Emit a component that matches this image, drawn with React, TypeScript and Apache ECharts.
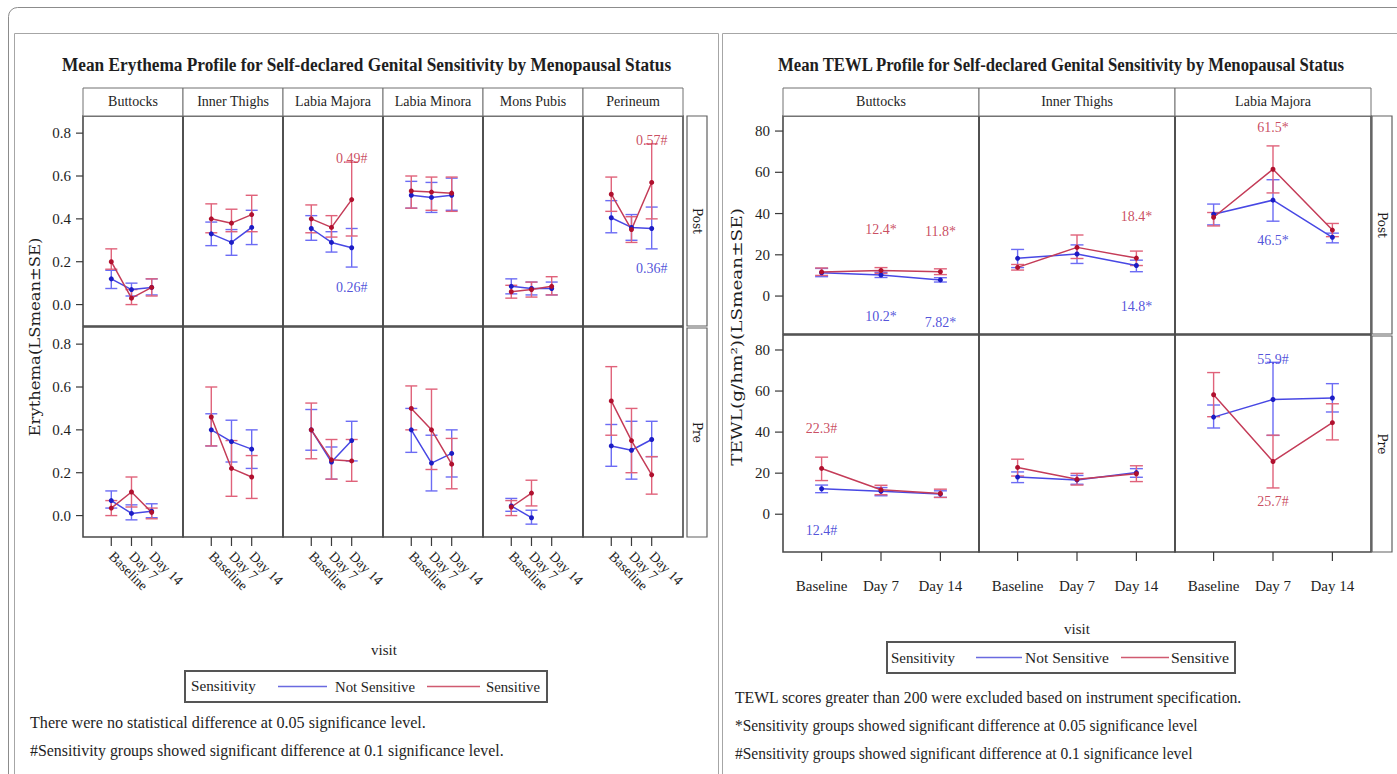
import React, { useEffect, useRef } from "react";
import * as echarts from "echarts";

// ---------------- DATA ----------------
const VISITS = ["Baseline", "Day 7", "Day 14"];
const VISIT_IDX = [0, 1, 2];
const ERY_SITES = ["Buttocks", "Inner Thighs", "Labia Majora", "Labia Minora", "Mons Pubis", "Perineum"];
const TEWL_SITES = ["Buttocks", "Inner Thighs", "Labia Majora"];
const ROWS = ["Post", "Pre"];
const ERY_TICKS = [0, 0.2, 0.4, 0.6, 0.8];
const TEWL_TICKS = [0, 20, 40, 60, 80];

// Erythema, Post, Not Sensitive
const eryPostNSMean = [[0.12, 0.07, 0.08], [0.33, 0.29, 0.36], [0.355, 0.29, 0.265], [0.51, 0.5, 0.51], [0.085, 0.075, 0.075], [0.405, 0.36, 0.355]];
const eryPostNSLo = [[0.075, 0.04, 0.045], [0.275, 0.23, 0.28], [0.3, 0.245, 0.175], [0.45, 0.43, 0.44], [0.05, 0.045, 0.045], [0.335, 0.3, 0.26]];
const eryPostNSHi = [[0.16, 0.1, 0.12], [0.385, 0.35, 0.44], [0.415, 0.34, 0.355], [0.575, 0.57, 0.59], [0.12, 0.105, 0.105], [0.485, 0.42, 0.455]];
// Erythema, Post, Sensitive
const eryPostSMean = [[0.2, 0.03, 0.08], [0.4, 0.38, 0.42], [0.4, 0.36, 0.49], [0.53, 0.525, 0.52], [0.06, 0.07, 0.085], [0.515, 0.35, 0.57]];
const eryPostSLo = [[0.165, 0.0, 0.04], [0.335, 0.34, 0.34], [0.335, 0.315, 0.32], [0.45, 0.44, 0.435], [0.03, 0.035, 0.045], [0.435, 0.29, 0.4]];
const eryPostSHi = [[0.26, 0.07, 0.12], [0.47, 0.445, 0.51], [0.465, 0.415, 0.665], [0.6, 0.595, 0.595], [0.09, 0.105, 0.13], [0.595, 0.41, 0.75]];
// Erythema, Pre, Not Sensitive
const eryPreNSMean = [[0.07, 0.01, 0.02], [0.4, 0.345, 0.31], [0.4, 0.25, 0.35], [0.4, 0.245, 0.29], [0.045, -0.01, null], [0.325, 0.305, 0.355]];
const eryPreNSLo = [[0.035, -0.02, -0.01], [0.325, 0.25, 0.22], [0.305, 0.17, 0.255], [0.295, 0.115, 0.18], [0.02, -0.04, null], [0.23, 0.17, 0.275]];
const eryPreNSHi = [[0.115, 0.05, 0.055], [0.475, 0.445, 0.4], [0.495, 0.32, 0.44], [0.5, 0.375, 0.4], [0.08, 0.025, null], [0.425, 0.44, 0.44]];
// Erythema, Pre, Sensitive
const eryPreSMean = [[0.035, 0.11, 0.015], [0.46, 0.22, 0.18], [0.4, 0.26, 0.255], [0.5, 0.4, 0.24], [0.04, 0.105, null], [0.535, 0.35, 0.19]];
const eryPreSLo = [[0.0, 0.04, -0.015], [0.325, 0.09, 0.08], [0.265, 0.17, 0.16], [0.4, 0.215, 0.125], [0.0, 0.045, null], [0.375, 0.2, 0.1]];
const eryPreSHi = [[0.07, 0.18, 0.035], [0.6, 0.35, 0.28], [0.525, 0.355, 0.355], [0.605, 0.59, 0.36], [0.07, 0.165, null], [0.695, 0.5, 0.275]];

// TEWL, Post
const tewlPostNSMean = [[11.3, 10.2, 7.82], [18.3, 20.4, 14.8], [39.7, 46.5, 28.5]];
const tewlPostNSLo = [[9.4, 9.0, 6.8], [13.8, 15.8, 11.8], [34.5, 36.3, 25.8]];
const tewlPostNSHi = [[13.4, 11.5, 8.9], [22.6, 24.8, 17.4], [44.6, 56.4, 30.5]];
const tewlPostSMean = [[11.7, 12.4, 11.8], [13.9, 23.6, 18.4], [38.2, 61.5, 32.0]];
const tewlPostSLo = [[10.0, 11.0, 10.4], [12.6, 18.2, 14.8], [34.0, 50.0, 28.8]];
const tewlPostSHi = [[13.6, 13.8, 13.2], [15.3, 29.6, 21.8], [40.5, 72.8, 35.2]];
// TEWL, Pre
const tewlPreNSMean = [[12.4, 11.2, 9.8], [18.1, 16.7, 20.3], [47.3, 55.9, 56.6]];
const tewlPreNSLo = [[10.5, 9.0, 8.2], [15.4, 14.6, 18.0], [42.0, 38.4, 49.8]];
const tewlPreNSHi = [[14.2, 13.0, 11.4], [20.6, 18.9, 22.2], [53.2, 74.0, 63.6]];
const tewlPreSMean = [[22.3, 11.9, 10.1], [22.8, 17.0, 19.7], [58.2, 25.7, 44.6]];
const tewlPreSLo = [[16.4, 9.5, 8.2], [18.6, 14.2, 15.9], [47.5, 12.8, 36.2]];
const tewlPreSHi = [[27.8, 14.1, 12.2], [26.8, 19.9, 23.6], [69.0, 38.5, 53.8]];

// annotations: [row, site, visit, y, text, group]
const eryLabels: any[] = [
  [0, 2, 2, 0.68, "0.49#", "S"],
  [0, 2, 2, 0.08, "0.26#", "NS"],
  [0, 5, 2, 0.765, "0.57#", "S"],
  [0, 5, 2, 0.17, "0.36#", "NS"],
];
const tewlLabels: any[] = [
  [0, 0, 1, 32.3, "12.4*", "S"],
  [0, 0, 2, 31.5, "11.8*", "S"],
  [0, 0, 1, -9.7, "10.2*", "NS"],
  [0, 0, 2, -12.9, "7.82*", "NS"],
  [0, 1, 2, 38.4, "18.4*", "S"],
  [0, 1, 2, -5.2, "14.8*", "NS"],
  [0, 2, 1, 81.6, "61.5*", "S"],
  [0, 2, 1, 26.7, "46.5*", "NS"],
  [1, 0, 0, 42, "22.3#", "S"],
  [1, 0, 0, -8, "12.4#", "NS"],
  [1, 2, 1, 75.4, "55.9#", "NS"],
  [1, 2, 1, 6, "25.7#", "S"],
];

// ---------------- STYLE ----------------
const SERIF = "'Liberation Serif', 'Times New Roman', serif";
const WIDE = "'DejaVu Serif', serif";
const C = {
  NS: { line: "#4848e4", err: "#6c6cf4", pt: "#1c1cc4", label: "#2626d0" },
  S: { line: "#c43c58", err: "#e0627a", pt: "#b0102e", label: "#bc2038" },
};
const TXT = "#1e1e1e";
const BORDER = "#4a4a4a";

let _ctx: CanvasRenderingContext2D | null = null;
function measure(text: string, font: string) {
  if (!_ctx) _ctx = document.createElement("canvas").getContext("2d");
  if (!_ctx) return 0;
  _ctx.font = font;
  return _ctx.measureText(text).width;
}
function fitText(text: string, x: number, y: number, width: number, o: any = {}) {
  const size = o.size || 15;
  const family = o.family || SERIF;
  const weight = o.weight || "normal";
  const w = measure(text, `${weight} ${size}px ${family}`);
  const s = w > 0 && width > 0 ? width / w : 1;
  const align = o.align || "left";
  return {
    type: "text",
    x,
    y,
    rotation: o.rotation || 0,
    scaleX: s,
    scaleY: 1,
    silent: true,
    z: 10,
    style: {
      text,
      fontFamily: family,
      fontSize: size,
      fontWeight: weight,
      fill: o.color || TXT,
      align,
      textAlign: align,
      verticalAlign: "middle",
      textVerticalAlign: "middle",
    },
  };
}
function plainText(text: string, x: number, y: number, o: any = {}) {
  return {
    type: "text",
    x,
    y,
    rotation: o.rotation || 0,
    silent: true,
    z: 10,
    style: {
      text,
      fontFamily: o.family || SERIF,
      fontSize: o.size || 14,
      fill: o.color || TXT,
      align: "center",
      textAlign: "center",
      verticalAlign: "middle",
      textVerticalAlign: "middle",
    },
  };
}

function errRender(color: string, capW: number) {
  return (params: any, api: any) => {
    const x = api.value(0);
    const lo = api.value(1);
    const hi = api.value(2);
    const a = api.coord([x, lo]);
    const b = api.coord([x, hi]);
    const st = { stroke: color, lineWidth: 1.4 };
    return {
      type: "group",
      children: [
        { type: "line", shape: { x1: a[0], y1: a[1], x2: b[0], y2: b[1] }, style: st },
        { type: "line", shape: { x1: a[0] - capW, y1: a[1], x2: a[0] + capW, y2: a[1] }, style: st },
        { type: "line", shape: { x1: b[0] - capW, y1: b[1], x2: b[0] + capW, y2: b[1] }, style: st },
      ],
    };
  };
}

// axis tick marks drawn through the axis scale (outside the grid)
function tickSeries(g: number, dir: "x" | "y", values: number[], edge: number, len: number) {
  return {
    type: "custom",
    xAxisIndex: g,
    yAxisIndex: g,
    silent: true,
    clip: false,
    z: 5,
    data: values.map((v) => (dir === "y" ? [edge, v] : [v, edge])),
    renderItem: (params: any, api: any) => {
      const p = api.coord([api.value(0), api.value(1)]);
      const shape =
        dir === "y"
          ? { x1: p[0] - len, y1: p[1], x2: p[0], y2: p[1] }
          : { x1: p[0], y1: p[1], x2: p[0], y2: p[1] + len };
      return { type: "line", shape, style: { stroke: "#3a3a3a", lineWidth: 1.2 } };
    },
  };
}

function panelSeries(g: number, groups: any[], labels: any[], capW: number) {
  const out: any[] = [];
  groups.forEach((gr) => {
    const c = (C as any)[gr.key];
    out.push({
      type: "custom",
      xAxisIndex: g,
      yAxisIndex: g,
      silent: true,
      z: 2,
      renderItem: errRender(c.err, capW),
      encode: { x: 0, y: [1, 2] },
      data: gr.lo.map((l: any, i: number) => (l == null ? null : [i, l, gr.hi[i]])).filter((d: any) => d),
    });
  });
  groups.forEach((gr) => {
    const c = (C as any)[gr.key];
    out.push({
      type: "line",
      xAxisIndex: g,
      yAxisIndex: g,
      silent: true,
      z: 3,
      symbol: "circle",
      symbolSize: 5,
      lineStyle: { color: c.line, width: 1.5 },
      itemStyle: { color: c.pt },
      data: gr.mean.map((m: any, i: number) => [i, m == null ? "-" : m]),
    });
  });
  if (labels.length) {
    ["NS", "S"].forEach((k) => {
      const d = labels.filter((l) => l[5] === k);
      if (!d.length) return;
      out.push({
        type: "scatter",
        xAxisIndex: g,
        yAxisIndex: g,
        silent: true,
        z: 4,
        symbolSize: 1,
        itemStyle: { color: "rgba(0,0,0,0)" },
        label: {
          show: true,
          position: "inside",
          formatter: "{b}",
          color: (C as any)[k].label,
          fontFamily: SERIF,
          fontSize: 14,
        },
        data: d.map((l) => ({ name: l[4], value: [l[2], l[3]] })),
      });
    });
  }
  return out;
}

function buildOption() {
  const grid: any[] = [];
  const xAxis: any[] = [];
  const yAxis: any[] = [];
  const series: any[] = [];
  const graphic: any[] = [];

  const axisFont = { fontFamily: SERIF, fontSize: 15, color: TXT };
  const axLine = { show: false, onZero: false };

  // ---------- Erythema chart ----------
  const ERY_X = [-1.4, 3.55];
  const ERY_Y = [-0.1, 0.88];
  const eryData = [
    [eryPostNSMean, eryPostNSLo, eryPostNSHi, eryPostSMean, eryPostSLo, eryPostSHi],
    [eryPreNSMean, eryPreNSLo, eryPreNSHi, eryPreSMean, eryPreSLo, eryPreSHi],
  ];
  ROWS.forEach((row, r) => {
    ERY_SITES.forEach((site, c) => {
      const g = grid.length;
      grid.push({
        left: 83 + c * 100,
        top: r === 0 ? 116 : 327,
        width: 100,
        height: 210,
        show: true,
        borderColor: BORDER,
        borderWidth: 1.6,
        backgroundColor: "transparent",
      });
      xAxis.push({
        type: "value",
        gridIndex: g,
        position: "bottom",
        min: ERY_X[0],
        max: ERY_X[1],
        axisLine: axLine,
        splitLine: { show: false },
        axisTick: { show: false },
        axisLabel: {
          show: r === 1,
          customValues: VISIT_IDX,
          rotate: -45,
          margin: 17,
          hideOverlap: false,
          showMinLabel: true,
          showMaxLabel: true,
          formatter: (v: number) => VISITS[Math.round(v)],
          ...axisFont,
          fontSize: 14,
        },
      });
      yAxis.push({
        type: "value",
        gridIndex: g,
        position: "left",
        min: ERY_Y[0],
        max: ERY_Y[1],
        axisLine: axLine,
        splitLine: { show: false },
        axisTick: { show: false },
        axisLabel: {
          show: c === 0,
          customValues: ERY_TICKS,
          margin: 12,
          hideOverlap: false,
          formatter: (v: number) => v.toFixed(1),
          ...axisFont,
        },
      });
      const d = eryData[r];
      const groups = [
        { key: "NS", mean: d[0][c], lo: d[1][c], hi: d[2][c] },
        { key: "S", mean: d[3][c], lo: d[4][c], hi: d[5][c] },
      ];
      const labs = eryLabels.filter((l) => l[0] === r && l[1] === c);
      series.push(...panelSeries(g, groups, labs, 6));
      if (c === 0) series.push(tickSeries(g, "y", ERY_TICKS, ERY_X[0], 7));
      if (r === 1) series.push(tickSeries(g, "x", VISIT_IDX, ERY_Y[0], 9));
    });
  });

  // ---------- TEWL chart ----------
  const TEWL_X = [-0.65, 2.65];
  const TEWL_Y = [-18.4, 87.3];
  const tewlData = [
    [tewlPostNSMean, tewlPostNSLo, tewlPostNSHi, tewlPostSMean, tewlPostSLo, tewlPostSHi],
    [tewlPreNSMean, tewlPreNSLo, tewlPreNSHi, tewlPreSMean, tewlPreSLo, tewlPreSHi],
  ];
  ROWS.forEach((row, r) => {
    TEWL_SITES.forEach((site, c) => {
      const g = grid.length;
      grid.push({
        left: 783 + c * 196,
        top: r === 0 ? 116 : 335,
        width: 196,
        height: r === 0 ? 218 : 217,
        show: true,
        borderColor: BORDER,
        borderWidth: 1.6,
        backgroundColor: "transparent",
      });
      xAxis.push({
        type: "value",
        gridIndex: g,
        position: "bottom",
        min: TEWL_X[0],
        max: TEWL_X[1],
        axisLine: axLine,
        splitLine: { show: false },
        axisTick: { show: false },
        axisLabel: {
          show: r === 1,
          customValues: VISIT_IDX,
          margin: 26,
          hideOverlap: false,
          showMinLabel: true,
          showMaxLabel: true,
          formatter: (v: number) => VISITS[Math.round(v)],
          ...axisFont,
        },
      });
      yAxis.push({
        type: "value",
        gridIndex: g,
        position: "left",
        min: TEWL_Y[0],
        max: TEWL_Y[1],
        axisLine: axLine,
        splitLine: { show: false },
        axisTick: { show: false },
        axisLabel: {
          show: c === 0,
          customValues: TEWL_TICKS,
          margin: 13,
          hideOverlap: false,
          formatter: (v: number) => String(v),
          ...axisFont,
        },
      });
      const d = tewlData[r];
      const groups = [
        { key: "NS", mean: d[0][c], lo: d[1][c], hi: d[2][c] },
        { key: "S", mean: d[3][c], lo: d[4][c], hi: d[5][c] },
      ];
      const labs = tewlLabels.filter((l) => l[0] === r && l[1] === c);
      series.push(...panelSeries(g, groups, labs, 6.5));
      if (c === 0) series.push(tickSeries(g, "y", TEWL_TICKS, TEWL_X[0], 8));
      if (r === 1) series.push(tickSeries(g, "x", VISIT_IDX, TEWL_Y[0], 9));
    });
  });

  // ---------- frames ----------
  graphic.push({ type: "rect", silent: true, shape: { x: 8.5, y: 7.5, width: 1400, height: 800, r: 9 }, style: { fill: "none", stroke: "#8c8c8c", lineWidth: 1 } });
  graphic.push({ type: "rect", silent: true, shape: { x: 14.5, y: 33.5, width: 704, height: 780 }, style: { fill: "none", stroke: "#a6a6a6", lineWidth: 1 } });
  graphic.push({ type: "rect", silent: true, shape: { x: 722.5, y: 33.5, width: 700, height: 780 }, style: { fill: "none", stroke: "#a6a6a6", lineWidth: 1 } });

  // ---------- titles ----------
  graphic.push(fitText("Mean Erythema Profile for Self-declared Genital Sensitivity by Menopausal Status", 62, 65, 610, { size: 19, weight: "bold" }));
  graphic.push(fitText("Mean TEWL Profile for Self-declared Genital Sensitivity by Menopausal Status", 778, 65, 568, { size: 19, weight: "bold" }));

  // ---------- headers ----------
  ERY_SITES.forEach((s, c) => {
    graphic.push({ type: "rect", silent: true, shape: { x: 83 + c * 100, y: 88, width: 100, height: 28 }, style: { fill: "#fff", stroke: "#707070", lineWidth: 1 } });
    graphic.push(plainText(s, 83 + c * 100 + 50, 101, { size: 14 }));
  });
  TEWL_SITES.forEach((s, c) => {
    graphic.push({ type: "rect", silent: true, shape: { x: 783 + c * 196, y: 88, width: 196, height: 28 }, style: { fill: "#fff", stroke: "#707070", lineWidth: 1 } });
    graphic.push(plainText(s, 783 + c * 196 + 98, 101, { size: 14 }));
  });
  // row strips
  const strips = [
    { x: 687, y: 116, h: 210, t: ROWS[0] },
    { x: 687, y: 328, h: 209, t: ROWS[1] },
    { x: 1372, y: 116, h: 218, t: ROWS[0] },
    { x: 1372, y: 336, h: 216, t: ROWS[1] },
  ];
  strips.forEach((s) => {
    graphic.push({ type: "rect", silent: true, shape: { x: s.x, y: s.y, width: 20, height: s.h }, style: { fill: "#fff", stroke: "#606060", lineWidth: 1.2 } });
    graphic.push(plainText(s.t, s.x + 10, s.y + s.h / 2, { size: 12, family: WIDE, rotation: -Math.PI / 2 }));
  });

  // ---------- axis titles ----------
  graphic.push(fitText("Erythema(LSmean±SE)", 35, 337, 199, { size: 15, family: WIDE, rotation: Math.PI / 2, align: "center" }));
  graphic.push(fitText("TEWL(g/hm²)(LSmean±SE)", 737, 337, 258, { size: 15, family: WIDE, rotation: Math.PI / 2, align: "center" }));
  graphic.push(plainText("visit", 384, 650, { size: 15 }));
  graphic.push(plainText("visit", 1077, 629, { size: 15 }));

  // ---------- legends ----------
  const legend = (bx: number, by: number, bw: number, bh: number, t1: number[], l1: number[], t2: number[], l2: number[], t3: number[]) => {
    const cy = by + bh / 2;
    graphic.push({ type: "rect", silent: true, shape: { x: bx, y: by, width: bw, height: bh }, style: { fill: "#fff", stroke: "#555", lineWidth: 2 } });
    graphic.push(fitText("Sensitivity", t1[0], cy, t1[1], { size: 15 }));
    graphic.push({ type: "line", silent: true, z: 10, shape: { x1: l1[0], y1: cy, x2: l1[1], y2: cy }, style: { stroke: "#6a6ae0", lineWidth: 1.5 } });
    graphic.push(fitText("Not Sensitive", t2[0], cy, t2[1], { size: 15 }));
    graphic.push({ type: "line", silent: true, z: 10, shape: { x1: l2[0], y1: cy, x2: l2[1], y2: cy }, style: { stroke: "#d05a70", lineWidth: 1.5 } });
    graphic.push(fitText("Sensitive", t3[0], cy, t3[1], { size: 15 }));
  };
  legend(185, 671, 362, 31, [191, 65], [278, 327], [335, 80], [427, 480], [486, 54]);
  legend(887, 642, 348, 31, [891, 64], [976, 1022], [1025, 84], [1121, 1169], [1171, 58]);

  // ---------- footnotes ----------
  graphic.push(fitText("There were no statistical difference at 0.05 significance level.", 30, 723, 396, { size: 16 }));
  graphic.push(fitText("#Sensitivity groups showed significant difference at 0.1 significance level.", 30, 750, 474, { size: 16 }));
  graphic.push(fitText("TEWL scores greater than 200 were excluded based on instrument specification.", 735, 697, 507, { size: 16 }));
  graphic.push(fitText("*Sensitivity groups showed significant difference at 0.05 significance level", 735, 725, 463, { size: 16 }));
  graphic.push(fitText("#Sensitivity groups showed significant difference at 0.1 significance level", 735, 753, 458, { size: 16 }));

  return {
    animation: false,
    backgroundColor: "#ffffff",
    grid,
    xAxis,
    yAxis,
    series,
    graphic: { elements: graphic },
  };
}

export default function App() {
  const ref = useRef<HTMLDivElement>(null);
  useEffect(() => {
    document.body.style.margin = "0";
    if (!ref.current) return;
    const chart = echarts.init(ref.current, undefined, { renderer: "svg" });
    chart.setOption(buildOption() as any);
    return () => chart.dispose();
  }, []);
  return <div ref={ref} style={{ position: "absolute", left: 0, top: 0, width: 1397, height: 774 }} />;
}
